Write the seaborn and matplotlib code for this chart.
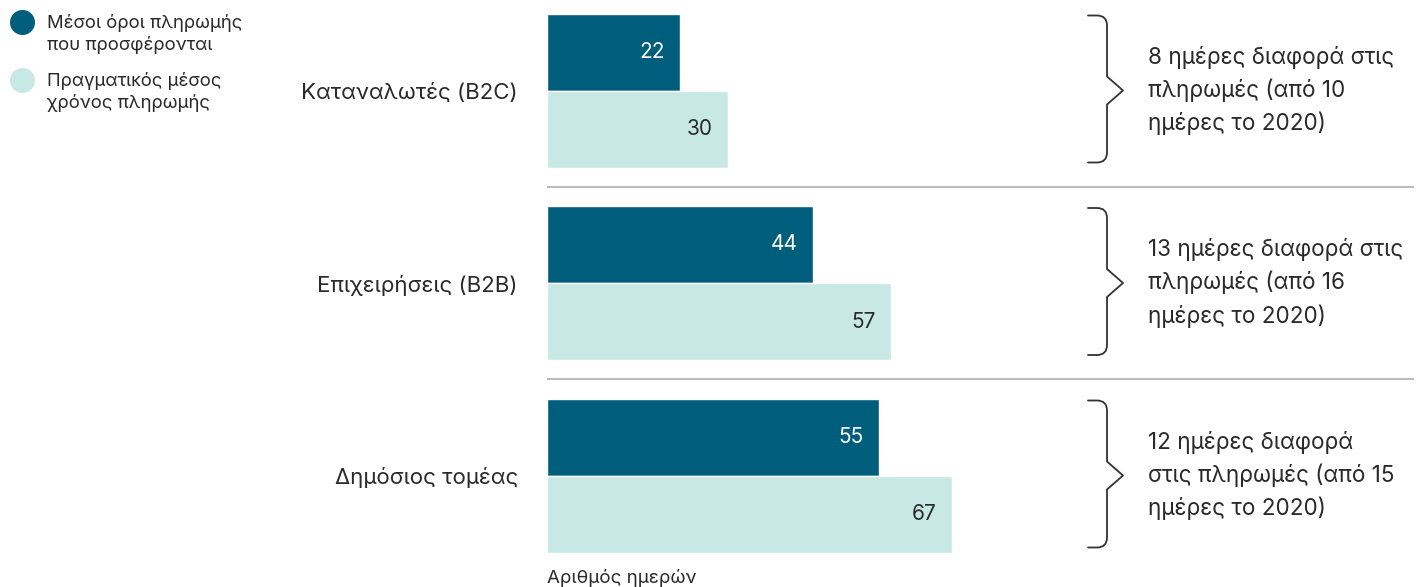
import numpy as np
import pandas as pd
import matplotlib
matplotlib.use("Agg")
import matplotlib.pyplot as plt
from matplotlib.path import Path
from matplotlib.patches import PathPatch
from matplotlib.lines import Line2D
import seaborn as sns

categories = ["Καταναλωτές (B2C)", "Επιχειρήσεις (B2B)", "Δημόσιος τομέας"]
series_names = ["Μέσοι όροι πληρωμής\nπου προσφέρονται", "Πραγματικός μέσος\nχρόνος πληρωμής"]
offered_terms = [22, 44, 55]
actual_time = [30, 57, 67]
notes = [
    "8 ημέρες διαφορά στις\nπληρωμές (από 10\nημέρες το 2020)",
    "13 ημέρες διαφορά στις\nπληρωμές (από 16\nημέρες το 2020)",
    "12 ημέρες διαφορά\nστις πληρωμές (από 15\nημέρες το 2020)",
]
x_label = "Αριθμός ημερών"

colors = ["#005E7D", "#C8E8E6"]
text_color = "#2a2a2a"

df = pd.DataFrame({
    "category": categories * 2,
    "series": [series_names[0]] * 3 + [series_names[1]] * 3,
    "days": offered_terms + actual_time,
})

sns.set_theme(style="white")
plt.rcParams["font.family"] = ["Inter", "DejaVu Sans"]
plt.rcParams["text.color"] = text_color

W, H = 1419, 587
fig = plt.figure(figsize=(W / 100, H / 100), dpi=100)
left_px, right_px = 547, 1414
top_px, bottom_px = 0, 560
ax = fig.add_axes([left_px / W, 1 - bottom_px / H, (right_px - left_px) / W, (bottom_px - top_px) / H])

px_per_unit_x = 6.04
px_per_unit_y = 192.5
y0_px = 90.5

sns.barplot(data=df, y="category", x="days", hue="series", order=categories,
            hue_order=series_names, palette=colors, saturation=1, width=0.8,
            orient="h", ax=ax, legend=False)

ax.set_xlim(0, (right_px - left_px) / px_per_unit_x)
ax.set_ylim((bottom_px - y0_px) / px_per_unit_y, (top_px - y0_px) / px_per_unit_y)

for s in ax.spines.values():
    s.set_visible(False)
ax.set_xticks([])
ax.set_xlabel("")
ax.set_ylabel("")
ax.tick_params(axis="y", length=0, pad=21, labelsize=16, labelcolor=text_color)

for yy in [0.5, 1.5]:
    ax.axhline(yy, color="#b5b5b5", lw=1.3, zorder=0)

for ci, cont in enumerate(ax.containers):
    col = "white" if ci == 0 else text_color
    for p in cont:
        w = p.get_width()
        yc = p.get_y() + p.get_height() / 2
        ax.annotate(f"{w:g}", xy=(w, yc), xytext=(-11, 0), textcoords="offset points",
                    ha="right", va="center", color=col, fontsize=15)

def px2x(px):
    return (px - left_px) / px_per_unit_x

def dy(px):
    return px / px_per_unit_y

for i, note in enumerate(notes):
    yc = i
    xe = px2x(1088)
    xv = px2x(1107)
    xp = px2x(1123)
    top = yc - dy(75)
    bot = yc + dy(72)
    r = dy(10)
    rx = px2x(1107) - px2x(1097)
    verts = [
        (xe, top), (xv - rx, top), (xv, top), (xv, top + r),
        (xv, yc - dy(14)), (xp, yc), (xv, yc + dy(14)),
        (xv, bot - r), (xv, bot), (xv - rx, bot), (xe, bot),
    ]
    codes = [Path.MOVETO, Path.LINETO, Path.CURVE3, Path.CURVE3,
             Path.LINETO, Path.LINETO, Path.LINETO,
             Path.LINETO, Path.CURVE3, Path.CURVE3, Path.LINETO]
    ax.add_patch(PathPatch(Path(verts, codes), fill=False, edgecolor="#333333", lw=1.3,
                           clip_on=False, capstyle="round", joinstyle="round"))
    ax.text(px2x(1148), yc, note, ha="left", va="center", fontsize=16.2,
            linespacing=1.52, color=text_color, clip_on=False)

fig.text(left_px / W, 1 - 578 / H, x_label, ha="left", va="center", fontsize=13.5, color=text_color)

# legend (manual, marker aligned with first line of each label)
legend_rows = [22, 80]
for c, name, ypx in zip(colors, series_names, legend_rows):
    fig.add_artist(Line2D([22 / W], [1 - ypx / H], marker="o", linestyle="", markersize=17,
                          markerfacecolor=c, markeredgecolor=c, transform=fig.transFigure))
    fig.text(47 / W, 1 - (ypx + 12) / H, name, ha="left", va="center", fontsize=13.3,
             linespacing=1.3, color=text_color)

fig.savefig("out.png", dpi=100)
